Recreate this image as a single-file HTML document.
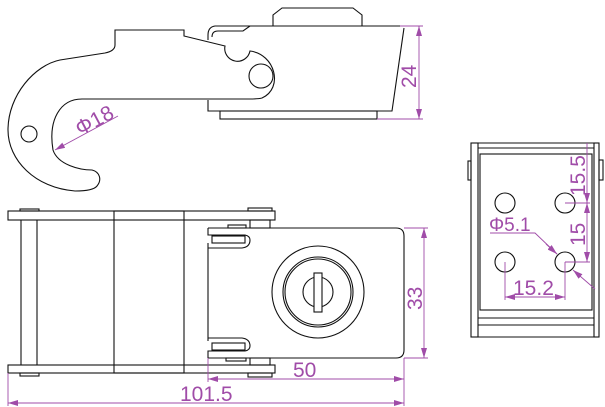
<!DOCTYPE html>
<html><head><meta charset="utf-8"><style>
html,body{margin:0;padding:0;background:#fff;}
svg{display:block;}
text{font-family:"Liberation Sans",sans-serif;fill:#a04ca8;}
</style></head><body>
<svg width="605" height="407" viewBox="0 0 605 407" xmlns="http://www.w3.org/2000/svg">
<defs>
<marker id="a" viewBox="0 0 10 6" refX="10" refY="3" markerWidth="10" markerHeight="6" orient="auto-start-reverse" markerUnits="userSpaceOnUse"><path d="M0,0 L10,3 L0,6 Z" fill="#a04ca8"/></marker>
</defs>
<g fill="none" stroke="#111" stroke-width="1.1">
<path d="M273,26 V15 L282,8 H353 L362,15 V26"/>
<path d="M400,26 H215 Q208,27 208,35 V40"/>
<path d="M212,37 Q212,31 218,31 H243 L250,26"/>
<path d="M404,28 L392,111 H208 V100"/>
<rect x="220" y="111" width="157" height="8"/>
<path d="M115,30 H184 V36 L225,46 A12,12 0 0 0 250,51 C275,54 284,88 262,98 Q258,99 250,99 H82 C60,99 48,120 53,150 C58,165 80,170 92,170 C100,172 102,180 97,186 C94,190 85,191 75,191 C35,188 8,160 8,130 C8,95 35,65 60,60 L105,53 Q115,51 115,45 Z"/>
<circle cx="261" cy="76" r="12"/>
<circle cx="29" cy="134" r="8"/>
<rect x="8" y="211" width="267" height="9"/>
<rect x="20" y="209" width="19" height="2"/>
<rect x="248" y="208" width="24" height="3"/>
<rect x="8" y="365" width="267" height="8"/>
<rect x="20" y="373" width="19" height="3"/>
<rect x="248" y="373" width="24" height="4"/>
<line x1="21" y1="220" x2="21" y2="365"/>
<line x1="37" y1="220" x2="37" y2="365"/>
<rect x="114" y="211" width="70" height="162"/>
<rect x="250" y="220" width="20" height="8"/>
<rect x="250" y="358" width="20" height="7"/>
<path d="M208,228 H396 Q404,228 404,236 V350 Q404,358 396,358 H208"/>
<path d="M208,243 V341"/>
<rect x="228" y="225" width="18" height="3"/>
<path d="M208,228 V235 H245 Q250,236 250,240 Q250,247 242,248 H208"/>
<rect x="212" y="236" width="33" height="7"/>
<path d="M208,358 V351 H245 Q250,350 250,346 Q250,339 242,338 H208"/>
<rect x="212" y="343" width="33" height="7"/>
<rect x="226" y="358" width="20" height="3"/>
<circle cx="318" cy="292" r="46"/>
<circle cx="318" cy="292" r="35"/>
<circle cx="318" cy="292" r="33"/>
<circle cx="318" cy="292" r="15"/>
<rect x="314" y="273" width="8" height="39" fill="#fff"/>
<rect x="471" y="143" width="7" height="194"/>
<rect x="594" y="143" width="5" height="194"/>
<rect x="468" y="161" width="3" height="19"/>
<rect x="599" y="160" width="4" height="20"/>
<line x1="478" y1="148" x2="594" y2="148"/>
<line x1="478" y1="143" x2="594" y2="143"/>
<rect x="480" y="154" width="112" height="156"/>
<line x1="478" y1="318" x2="594" y2="318"/>
<line x1="478" y1="325" x2="594" y2="325"/>
<line x1="478" y1="337" x2="594" y2="337"/>
<circle cx="505" cy="203" r="10"/>
<circle cx="565" cy="203" r="10"/>
<circle cx="505" cy="262" r="10"/>
<circle cx="565" cy="262" r="10"/>
</g>
<g fill="none" stroke="#a04ca8" stroke-width="0.9">
<line x1="118" y1="116" x2="55" y2="150" marker-end="url(#a)"/>
<line x1="400" y1="26" x2="423" y2="26"/>
<line x1="377" y1="119" x2="423" y2="119"/>
<line x1="419" y1="26" x2="419" y2="119" marker-start="url(#a)" marker-end="url(#a)"/>
<line x1="404" y1="228" x2="428" y2="228"/>
<line x1="404" y1="358" x2="428" y2="358"/>
<line x1="424" y1="228" x2="424" y2="358" marker-start="url(#a)" marker-end="url(#a)"/>
<line x1="208" y1="358" x2="208" y2="382"/>
<line x1="404" y1="358" x2="404" y2="406"/>
<line x1="8" y1="373" x2="8" y2="406"/>
<line x1="208" y1="379" x2="404" y2="379" marker-start="url(#a)" marker-end="url(#a)"/>
<line x1="8" y1="403" x2="404" y2="403" marker-start="url(#a)" marker-end="url(#a)"/>
<line x1="565" y1="203" x2="590" y2="203"/>
<line x1="565" y1="262" x2="590" y2="262"/>
<line x1="587" y1="143" x2="587" y2="203" marker-end="url(#a)"/>
<line x1="587" y1="203" x2="587" y2="262" marker-start="url(#a)" marker-end="url(#a)"/>
<polyline points="490,233 535,233 557,254"/>
<line x1="546" y1="244" x2="557" y2="254" marker-end="url(#a)"/>
<line x1="595" y1="289" x2="573" y2="270" marker-end="url(#a)"/>
<line x1="505" y1="262" x2="505" y2="300"/>
<line x1="565" y1="262" x2="565" y2="300"/>
<line x1="505" y1="297" x2="565" y2="297" marker-start="url(#a)" marker-end="url(#a)"/>
</g>
<text x="0" y="0" font-size="21" transform="translate(80,136) rotate(-28)">Φ18</text>
<text x="0" y="0" font-size="21" transform="translate(416,88) rotate(-90)">24</text>
<text x="0" y="0" font-size="21" transform="translate(422,310) rotate(-90)">33</text>
<text x="293" y="377" font-size="21">50</text>
<text x="180" y="401" font-size="21">101.5</text>
<text x="489" y="231" font-size="19">Φ5.1</text>
<text x="513" y="295" font-size="21">15.2</text>
<text x="0" y="0" font-size="21" transform="translate(585,196) rotate(-90)">15.5</text>
<text x="0" y="0" font-size="21" transform="translate(585,246) rotate(-90)">15</text>
</svg>
</body></html>
